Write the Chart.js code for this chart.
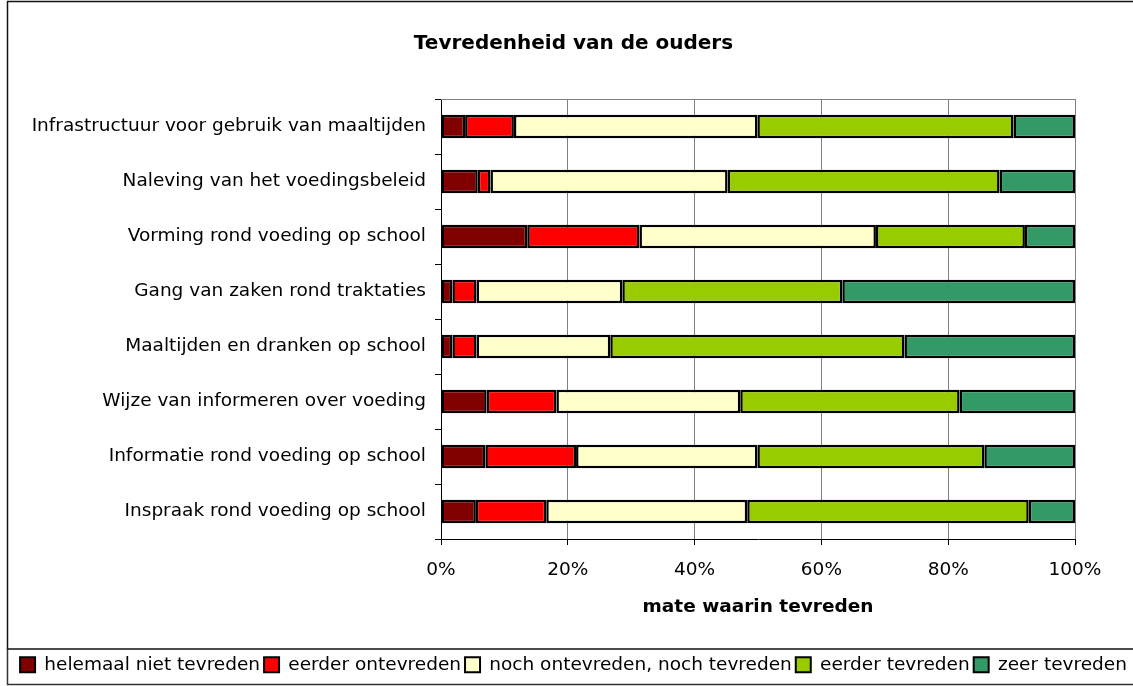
<!DOCTYPE html>
<html>
<head>
<meta charset="utf-8">
<script src="https://cdn.jsdelivr.net/npm/chart.js@4.4.1/dist/chart.umd.min.js"></script>
<style>
  html, body { margin: 0; padding: 0; background: #fff; }
  #chart { display: block; }
</style>
</head>
<body>
<canvas id="chart" width="1133" height="686"></canvas>
<script>
// ================= DATA =================
const categories = [
  "Infrastructuur voor gebruik van maaltijden",
  "Naleving van het voedingsbeleid",
  "Vorming rond voeding op school",
  "Gang van zaken rond traktaties",
  "Maaltijden en dranken op school",
  "Wijze van informeren over voeding",
  "Informatie rond voeding op school",
  "Inspraak rond voeding op school",
];

const helemaalNiet = [3.8, 5.8, 13.6, 1.8, 1.8, 7.2, 7.0, 5.5];
const eerderOntevreden = [7.7, 2.0, 17.7, 3.8, 3.8, 11.0, 14.3, 11.1];
const nochNoch = [38.4, 37.4, 37.3, 23.0, 21.1, 29.0, 28.6, 31.7];
const eerderTevreden = [40.4, 42.9, 23.5, 34.7, 46.4, 34.6, 35.8, 44.4];
const zeerTevreden = [9.7, 11.9, 7.9, 36.7, 26.9, 18.2, 14.3, 7.3];

const seriesNames = [
  "helemaal niet tevreden",
  "eerder ontevreden",
  "noch ontevreden, noch tevreden",
  "eerder tevreden",
  "zeer tevreden",
];
const seriesColors = ["#800000", "#ff0000", "#ffffcc", "#99cc00", "#339966"];

const xTicks = [0, 20, 40, 60, 80, 100];

const FONT = "'DejaVu Sans', sans-serif";

// ================= FRAMES =================
// outer chart box + legend box (excel style)
const framePlugin = {
  id: "frames",
  beforeDatasetsDraw(chart) {
    const { ctx, chartArea: a } = chart;
    ctx.save();
    ctx.strokeStyle = "#808080";
    ctx.lineWidth = 1;
    ctx.beginPath();
    ctx.moveTo(a.left, a.top + 0.5);
    ctx.lineTo(a.right, a.top + 0.5);
    ctx.stroke();
    ctx.restore();
  },
  afterDraw(chart) {
    const { ctx } = chart;
    ctx.save();
    ctx.strokeStyle = "#111";
    ctx.lineWidth = 1.5;
    ctx.strokeRect(7.5, 1.5, 1140, 647.5);
    ctx.strokeStyle = "#333";
    ctx.beginPath();
    ctx.moveTo(7.5, 649);
    ctx.lineTo(7.5, 684.5);
    ctx.lineTo(1140, 684.5);
    ctx.stroke();
    ctx.restore();
  },
};

const datasets = [helemaalNiet, eerderOntevreden, nochNoch, eerderTevreden, zeerTevreden].map(
  (values, i) => ({
    label: seriesNames[i],
    data: values,
    backgroundColor: seriesColors[i],
    borderColor: "#000",
    borderWidth: 2.5,
    borderSkipped: false,
    barPercentage: 0.43,
    categoryPercentage: 1,
  }),
);

new Chart(document.getElementById("chart"), {
  type: "bar",
  data: { labels: categories, datasets: datasets },
  plugins: [framePlugin],
  options: {
    indexAxis: "y",
    responsive: false,
    animation: false,
    devicePixelRatio: 1,
    layout: { padding: { left: 14, right: 0, top: 0, bottom: 2 } },
    plugins: {
      tooltip: { enabled: false },
      title: {
        display: true,
        text: "Tevredenheid van de ouders",
        color: "#000",
        font: { family: FONT, size: 20, weight: "bold" },
        padding: { top: 32, bottom: 43 },
      },
      legend: {
        position: "bottom",
        labels: {
          color: "#000",
          font: { family: FONT, size: 18.5 },
          boxWidth: 15,
          boxHeight: 15,
          padding: 4,
          generateLabels: (chart) =>
            chart.data.datasets.map((ds, i) => ({
              text: ds.label,
              fillStyle: ds.backgroundColor,
              strokeStyle: "#000",
              lineWidth: 2,
              fontColor: "#000",
              datasetIndex: i,
            })),
        },
      },
    },
    scales: {
      x: {
        stacked: true,
        min: 0,
        max: 100,
        afterBuildTicks: (scale) => {
          scale.ticks = xTicks.map((v) => ({ value: v }));
        },
        afterFit: (scale) => {
          scale.height = 112.5;
          scale.paddingRight = 58;
        },
        ticks: {
          color: "#000",
          font: { family: FONT, size: 18.5 },
          padding: 14,
          callback: (v) => v + "%",
          maxRotation: 0,
        },
        grid: {
          color: "#808080",
          tickColor: "#000",
          tickLength: 6,
          lineWidth: 1,
        },
        border: { color: "#000", width: 1 },
        title: {
          display: true,
          text: "mate waarin tevreden",
          color: "#000",
          font: { family: FONT, size: 18.5, weight: "bold" },
          padding: { top: 4, bottom: 33.5 },
        },
      },
      y: {
        stacked: true,
        afterFit: (scale) => {
          scale.width = 427;
        },
        ticks: {
          color: "#000",
          font: { family: FONT, size: 18.5 },
          padding: 9,
        },
        grid: {
          drawOnChartArea: false,
          color: "#000",
          tickLength: 6,
        },
        border: { color: "#000", width: 1 },
      },
    },
  },
});
</script>
</body>
</html>
